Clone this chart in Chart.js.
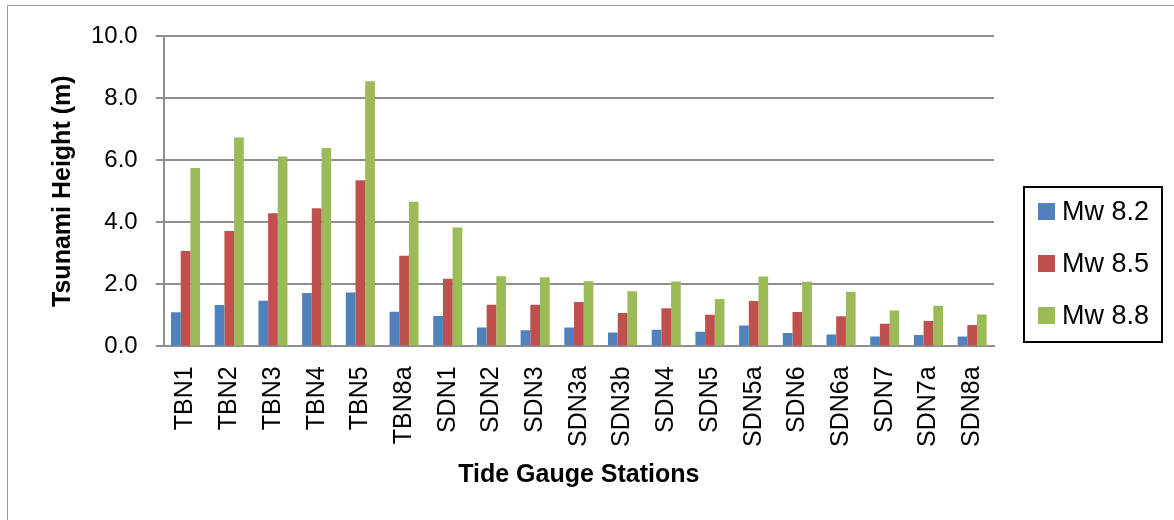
<!DOCTYPE html>
<html>
<head>
<meta charset="utf-8">
<script src="https://cdn.jsdelivr.net/npm/chart.js@4.4.1/dist/chart.umd.min.js"></script>
<style>
  html, body { margin: 0; padding: 0; background: #fff; }
  body { width: 1174px; height: 520px; position: relative; overflow: hidden; }
  #frame { position: absolute; left: 7px; top: 5px; width: 1200px; height: 600px; border: 1px solid #9a9a9a; }
  #wrap { position: absolute; left: 0; top: 0; width: 1174px; height: 520px; }
</style>
</head>
<body>
<div id="frame"></div>
<div id="wrap"><canvas id="chart" width="1174" height="520"></canvas></div>
<script>
// Tide gauge stations along the x axis
const stations = ['TBN1', 'TBN2', 'TBN3', 'TBN4', 'TBN5', 'TBN8a', 'SDN1', 'SDN2', 'SDN3', 'SDN3a',
                  'SDN3b', 'SDN4', 'SDN5', 'SDN5a', 'SDN6', 'SDN6a', 'SDN7', 'SDN7a', 'SDN8a'];

// Tsunami heights (m) for each earthquake magnitude scenario
const mw82 = [1.10, 1.33, 1.47, 1.72, 1.74, 1.12, 0.98, 0.61, 0.52, 0.61, 0.45, 0.54, 0.47, 0.67, 0.43, 0.38, 0.32, 0.37, 0.32];
const mw85 = [3.07, 3.72, 4.29, 4.45, 5.35, 2.92, 2.18, 1.34, 1.34, 1.43, 1.08, 1.23, 1.02, 1.46, 1.11, 0.97, 0.73, 0.82, 0.69];
const mw88 = [5.75, 6.73, 6.12, 6.39, 8.54, 4.66, 3.83, 2.26, 2.23, 2.10, 1.78, 2.09, 1.53, 2.25, 2.08, 1.76, 1.16, 1.31, 1.03];

const seriesNames = ['Mw 8.2', 'Mw 8.5', 'Mw 8.8'];

// Y axis tick labels (0 to 10 m, every 2 m)
const yTickLabels = ['0.0', '2.0', '4.0', '6.0', '8.0', '10.0'];

const FONT = '"Liberation Sans", Arial, sans-serif';
const GRID = '#8f8f8f';

// Boxed legend to the right of the plot
const boxedLegend = {
  id: 'boxedLegend',
  afterDraw(chart) {
    const ctx = chart.ctx;
    const left = chart.chartArea.right + 30;
    const top = 187, width = 138, height = 155;
    ctx.save();
    ctx.strokeStyle = '#000';
    ctx.lineWidth = 2;
    ctx.strokeRect(left, top, width, height);
    ctx.font = '27px ' + FONT;
    ctx.textBaseline = 'middle';
    ctx.textAlign = 'left';
    chart.data.datasets.forEach((ds, i) => {
      const cy = 211.5 + i * 52;
      ctx.fillStyle = ds.backgroundColor;
      ctx.fillRect(left + 14, cy - 8.5, 17, 17);
      ctx.fillStyle = '#000';
      ctx.fillText(ds.label, left + 38, cy + 1);
    });
    ctx.restore();
  }
};

new Chart(document.getElementById('chart'), {
  type: 'bar',
  data: {
    labels: stations,
    datasets: [
      { label: seriesNames[0], data: mw82, backgroundColor: '#4F81BD' },
      { label: seriesNames[1], data: mw85, backgroundColor: '#C0504D' },
      { label: seriesNames[2], data: mw88, backgroundColor: '#9BBB59' }
    ]
  },
  options: {
    responsive: false,
    animation: false,
    devicePixelRatio: 1,
    layout: { padding: { top: 36, right: 180, bottom: 30, left: 45 } },
    datasets: { bar: { categoryPercentage: 0.665, barPercentage: 1.0 } },
    plugins: {
      legend: { display: false },
      tooltip: { enabled: false }
    },
    scales: {
      x: {
        grid: { display: false, drawTicks: false },
        border: { display: true, color: GRID, width: 2 },
        ticks: {
          autoSkip: false,
          minRotation: 90,
          maxRotation: 90,
          padding: 20,
          color: '#000',
          font: { family: FONT, size: 25 }
        },
        title: {
          display: true,
          text: 'Tide Gauge Stations',
          color: '#000',
          padding: { top: -7, bottom: 0 },
          font: { family: FONT, size: 25, weight: 'bold' }
        }
      },
      y: {
        min: 0,
        max: 10,
        ticks: {
          stepSize: 2,
          padding: 18,
          color: '#000',
          font: { family: FONT, size: 24 },
          callback: (v) => yTickLabels[Math.round(v / 2)]
        },
        grid: { color: GRID, lineWidth: 2, tickLength: 8, drawTicks: true },
        border: { display: true, color: GRID, width: 2 },
        title: {
          display: true,
          text: 'Tsunami Height (m)',
          color: '#000',
          padding: { top: 3.5, bottom: -5.5 },
          font: { family: FONT, size: 25, weight: 'bold' }
        }
      }
    }
  },
  plugins: [boxedLegend]
});
</script>
</body>
</html>
